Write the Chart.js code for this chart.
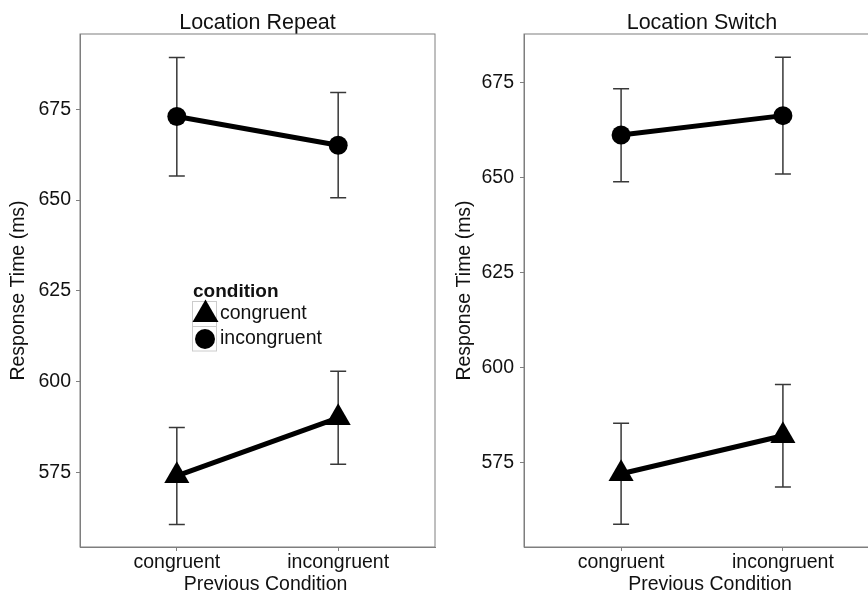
<!DOCTYPE html>
<html><head><meta charset="utf-8">
<script src="https://cdn.jsdelivr.net/npm/chart.js@4.4.1/dist/chart.umd.min.js"></script>
<style>
html,body{margin:0;padding:0;background:#fff;overflow:hidden;width:868px;height:594px;}
#wrap{position:relative;width:868px;height:594px;overflow:hidden;background:#fff;}
canvas{position:absolute;top:0;}
#c1{left:0;} #c2{left:440px;}
</style></head><body>
<div id="wrap"><canvas id="c1" width="470" height="594"></canvas><canvas id="c2" width="470" height="594"></canvas></div>
<script>
// ---- data ----
const prevConditions = ['congruent', 'incongruent'];
const conditions = ['congruent', 'incongruent'];
const yTicks = [575, 600, 625, 650, 675];

const repeatCongruent      = [574.0, 590.0];
const repeatCongruentLow   = [560.6, 577.2];
const repeatCongruentHigh  = [587.3, 602.8];
const repeatIncongruent    = [673.0, 665.1];
const repeatIncongruentLow = [656.6, 650.6];
const repeatIncongruentHigh= [689.3, 679.6];

const switchCongruent      = [572.0, 582.0];
const switchCongruentLow   = [558.7, 568.5];
const switchCongruentHigh  = [585.3, 595.5];
const switchIncongruent    = [661.2, 666.3];
const switchIncongruentLow = [648.9, 650.9];
const switchIncongruentHigh= [673.4, 681.7];

// ---- style ----
const FONT = "'Liberation Sans', Arial, Helvetica, sans-serif";
const AXIS = '#7f7f7f';
const TXT = '#111111';

function pts(vals) { return vals.map((v, i) => ({x: i + 1, y: v})); }

function errorBarPlugin(bars) {
  return {
    id: 'errorBars',
    beforeDatasetsDraw(chart) {
      const {ctx, scales: {x, y}} = chart;
      ctx.save();
      ctx.strokeStyle = '#383838';
      ctx.lineWidth = 1.5;
      bars.forEach(b => {
        b.low.forEach((lo, i) => {
          const px = x.getPixelForValue(i + 1);
          const y1 = y.getPixelForValue(lo), y2 = y.getPixelForValue(b.high[i]);
          const cap = 8;
          ctx.beginPath();
          ctx.moveTo(px, y1); ctx.lineTo(px, y2);
          ctx.moveTo(px - cap, y1); ctx.lineTo(px + cap, y1);
          ctx.moveTo(px - cap, y2); ctx.lineTo(px + cap, y2);
          ctx.stroke();
        });
      });
      ctx.restore();
    }
  };
}

const panelBox = {
  id: 'panelBox',
  afterDraw(chart) {
    const {ctx, chartArea: a} = chart;
    ctx.save();
    ctx.strokeStyle = AXIS;
    ctx.lineWidth = 1;
    ctx.strokeRect(a.left, a.top, a.right - a.left, a.bottom - a.top);
    ctx.restore();
  }
};

function xTitlePlugin(text) {
  return {
    id: 'xTitle',
    afterDraw(chart) {
      const {ctx, chartArea: a} = chart;
      ctx.save();
      ctx.fillStyle = TXT;
      ctx.font = '19.5px ' + FONT;
      ctx.textAlign = 'center';
      ctx.textBaseline = 'middle';
      ctx.fillText(text, (a.left + a.right) / 2 + 8, 584.5);
      ctx.restore();
    }
  };
}

const legendPlugin = {
  id: 'innerLegend',
  afterDraw(chart) {
    const {ctx} = chart;
    ctx.save();
    ctx.fillStyle = TXT;
    ctx.font = 'bold 19px ' + FONT;
    ctx.textAlign = 'left';
    ctx.textBaseline = 'alphabetic';
    ctx.fillText('condition', 193, 297);
    ctx.strokeStyle = '#cccccc';
    ctx.lineWidth = 1;
    ctx.strokeRect(192.5, 301.5, 24, 25);
    ctx.strokeRect(192.5, 326.5, 24, 24.5);
    ctx.fillStyle = '#000';
    // triangle key
    const tx = 205.5, ty = 314.5, r = 15;
    ctx.beginPath();
    ctx.moveTo(tx, ty - r);
    ctx.lineTo(tx + r * Math.sin(2 * Math.PI / 3), ty + r / 2);
    ctx.lineTo(tx - r * Math.sin(2 * Math.PI / 3), ty + r / 2);
    ctx.closePath();
    ctx.fill();
    // circle key
    ctx.beginPath();
    ctx.arc(205, 339, 10, 0, Math.PI * 2);
    ctx.fill();
    ctx.fillStyle = TXT;
    ctx.font = '19.5px ' + FONT;
    ctx.textBaseline = 'middle';
    ctx.fillText(conditions[0], 220, 314);
    ctx.fillText(conditions[1], 220, 339);
    ctx.restore();
  }
};

function makeChart(id, opt) {
  const datasets = [
    {label: conditions[0], data: pts(opt.cong), pointStyle: 'triangle', pointRadius: 14.5,
     borderColor: '#000', backgroundColor: '#000', pointBackgroundColor: '#000', pointBorderWidth: 0, borderWidth: 5},
    {label: conditions[1], data: pts(opt.incong), pointStyle: 'circle', pointRadius: 9.5,
     borderColor: '#000', backgroundColor: '#000', pointBackgroundColor: '#000', pointBorderWidth: 0, borderWidth: 5}
  ];
  const plugins = [errorBarPlugin(opt.bars), panelBox, xTitlePlugin('Previous Condition')];
  if (opt.legend) plugins.push(legendPlugin);
  return new Chart(document.getElementById(id), {
    type: 'line',
    data: {datasets},
    plugins,
    options: {
      responsive: false,
      animation: false,
      layout: {padding: {left: 0, right: opt.padRight, top: 0, bottom: 0}},
      plugins: {
        legend: {display: false},
        tooltip: {enabled: false},
        title: {display: true, text: opt.title, fullSize: false, color: TXT,
                font: {family: FONT, size: 21.5, weight: 'normal', lineHeight: 1},
                padding: {top: 12.5, bottom: 0}}
      },
      scales: {
        x: {
          type: 'linear', min: 0.4, max: 2.6,
          afterBuildTicks: s => { s.ticks = prevConditions.map((c, i) => ({value: i + 1})); },
          afterFit: s => { s.height = 47; },
          ticks: {color: TXT, font: {family: FONT, size: 19.5, lineHeight: 1}, padding: 2,
                  maxRotation: 0, autoSkip: false,
                  callback: v => prevConditions[v - 1]},
          grid: {drawOnChartArea: false, drawTicks: true, tickLength: 4, color: AXIS},
          border: {display: true, color: AXIS, width: 1}
        },
        y: {
          type: 'linear', min: opt.ymin, max: opt.ymax,
          afterBuildTicks: s => { s.ticks = yTicks.map(v => ({value: v})); },
          afterFit: s => { s.width = opt.yWidth; },
          ticks: {color: TXT, font: {family: FONT, size: 19.5}, padding: opt.tickPad},
          grid: {drawOnChartArea: false, drawTicks: true, tickLength: 4, color: AXIS},
          border: {display: true, color: AXIS, width: 1},
          title: {display: true, text: 'Response Time (ms)', color: TXT,
                  font: {family: FONT, size: 19.5, lineHeight: 1},
                  padding: {top: opt.titlePad, bottom: 0}}
        }
      }
    }
  });
}

makeChart('c1', {
  title: 'Location Repeat', cong: repeatCongruent, incong: repeatIncongruent,
  bars: [{low: repeatCongruentLow, high: repeatCongruentHigh}, {low: repeatIncongruentLow, high: repeatIncongruentHigh}],
  ymin: 554.4, ymax: 695.75, yWidth: 80, padRight: 35, tickPad: 5, titlePad: 8.75, legend: true
});
makeChart('c2', {
  title: 'Location Switch', cong: switchCongruent, incong: switchIncongruent,
  bars: [{low: switchCongruentLow, high: switchCongruentHigh}, {low: switchIncongruentLow, high: switchIncongruentHigh}],
  ymin: 552.7, ymax: 687.8, yWidth: 84, padRight: 30, tickPad: 6, titlePad: 14.5, legend: false
});
</script>
</body></html>
